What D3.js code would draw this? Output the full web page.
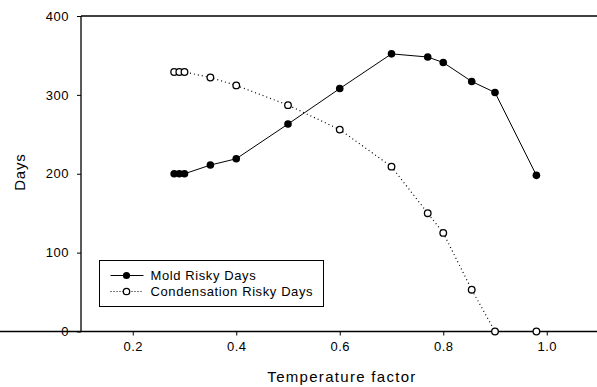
<!DOCTYPE html>
<html>
<head>
<script src="https://d3js.org/d3.v7.min.js"></script>
<style>
  body { margin: 0; background: white; }
  svg text { font-family: "Liberation Sans", Arial, sans-serif; fill: #000; }
</style>
</head>
<body>
<svg id="chart" width="597" height="387"></svg>
<script>
// temperature factor (x) and days (y)
const tempFactor = [0.28, 0.29, 0.30, 0.35, 0.40, 0.50, 0.60, 0.70, 0.77, 0.80, 0.855, 0.90, 0.98];
const moldDays = [200, 200, 200, 211, 219, 263, 308, 352, 348, 341, 317, 303, 198];
const condensationDays = [329, 329, 329, 322, 312, 287, 256, 209, 150, 125, 53, 0, 0];
const xTicks = [0.2, 0.4, 0.6, 0.8, 1.0];
const yTicks = [0, 100, 200, 300, 400];
const seriesNames = ["Mold Risky Days", "Condensation Risky Days"];

const svg = d3.select("#chart");
const margin = {top: 16, right: 0, bottom: 55, left: 81};
const width = +svg.attr("width");
const height = +svg.attr("height");

const x = d3.scaleLinear().domain([0.1, 1.1]).range([margin.left, width + 1.5]);
const y = d3.scaleLinear().domain([0, 400]).range([height - margin.bottom - 0.5, margin.top]);

// axes
const xAxis = svg.append("g")
    .attr("transform", `translate(0,${y(0)})`)
    .call(d3.axisBottom(x).tickValues(xTicks).tickFormat(d3.format(".1f")).tickSize(4).tickPadding(6));
const yAxis = svg.append("g")
    .attr("transform", `translate(${x(0.1)},0)`)
    .call(d3.axisLeft(y).tickValues(yTicks).tickSize(4).tickPadding(8));

[xAxis, yAxis].forEach(g => {
  g.select(".domain").attr("stroke", "#000").attr("stroke-width", 1.3);
  g.selectAll(".tick line").attr("stroke", "#000");
  g.selectAll(".tick text")
      .style("font-size", "13px")
      .style("letter-spacing", "0.5px")
      .attr("fill", "#000");
});
yAxis.select(".domain").attr("d", `M0,${y(0)}V${y(400)}`);
xAxis.select(".domain").attr("d", `M0,0H${width}`);

// top frame line
svg.append("line")
    .attr("x1", x(0.1)).attr("x2", width)
    .attr("y1", y(400)).attr("y2", y(400))
    .attr("stroke", "#000").attr("stroke-width", 1.3);

// axis titles
svg.append("text")
    .attr("x", 342).attr("y", 382)
    .attr("text-anchor", "middle")
    .style("font-size", "15px")
    .style("letter-spacing", "1.3px")
    .text("Temperature factor");
svg.append("text")
    .attr("transform", `translate(25,${y(202)}) rotate(-90)`)
    .attr("text-anchor", "middle")
    .style("font-size", "15px")
    .style("letter-spacing", "0.8px")
    .text("Days");

const moldData = tempFactor.map((t, i) => ({t, v: moldDays[i]}));
const condData = tempFactor.map((t, i) => ({t, v: condensationDays[i]}));

const line = d3.line().x(d => x(d.t)).y(d => y(d.v));

svg.append("path")
    .datum(condData)
    .attr("d", line)
    .attr("fill", "none")
    .attr("stroke", "#000")
    .attr("stroke-width", 1.2)
    .attr("stroke-dasharray", "1,3");

svg.append("path")
    .datum(moldData)
    .attr("d", line)
    .attr("fill", "none")
    .attr("stroke", "#000")
    .attr("stroke-width", 1);

svg.append("g").selectAll("circle").data(condData).join("circle")
    .attr("cx", d => x(d.t)).attr("cy", d => y(d.v)).attr("r", 3.3)
    .attr("fill", "white").attr("stroke", "#000").attr("stroke-width", 1.3);

svg.append("g").selectAll("circle").data(moldData).join("circle")
    .attr("cx", d => x(d.t)).attr("cy", d => y(d.v)).attr("r", 3.8)
    .attr("fill", "#000");

// legend
const legend = svg.append("g").attr("transform", "translate(99.5,260.5)");
legend.append("rect")
    .attr("width", 224).attr("height", 46)
    .attr("fill", "white").attr("stroke", "#000").attr("stroke-width", 1);

seriesNames.forEach((name, i) => {
  const row = legend.append("g").attr("transform", `translate(0,${15 + i * 16})`);
  row.append("line")
      .attr("x1", 11).attr("x2", 44).attr("y1", 0).attr("y2", 0)
      .attr("stroke", "#000")
      .attr("stroke-width", i === 0 ? 1 : 1.2)
      .attr("stroke-dasharray", i === 0 ? null : "1,2");
  row.append("circle")
      .attr("cx", 27).attr("cy", 0).attr("r", i === 0 ? 3.6 : 3.2)
      .attr("fill", i === 0 ? "#000" : "white")
      .attr("stroke", "#000").attr("stroke-width", i === 0 ? 0 : 1.3);
  row.append("text")
      .attr("x", 51).attr("y", 0).attr("dy", "0.35em")
      .style("font-size", "13px")
      .style("letter-spacing", "0.6px")
      .text(name);
});
</script>
</body>
</html>
